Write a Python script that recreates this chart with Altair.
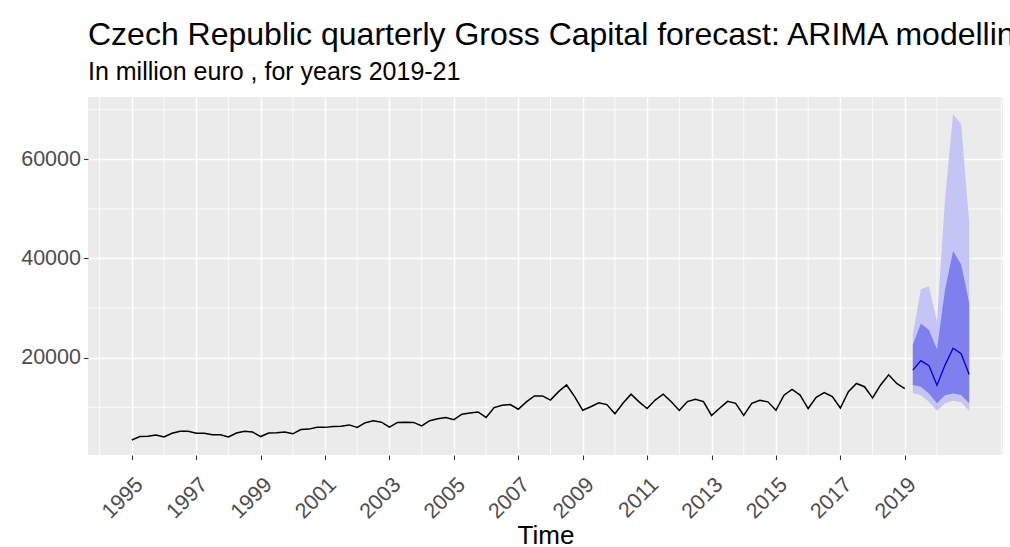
import altair as alt
import pandas as pd

# Quarterly gross capital formation, Czech Republic (million euro), 1995Q1-2019Q1
obs_start = 1995.0
obs_values = [
    3400, 4100, 4150, 4400,
    4000, 4750, 5180, 5180,
    4780, 4780, 4450, 4440,
    4030, 4800, 5180, 5000,
    4100, 4820, 4850, 5000,
    4650, 5500, 5600, 5950,
    5950, 6150, 6200, 6450,
    5950, 6900, 7300, 7000,
    6000, 6950, 7000, 6950,
    6250, 7300, 7700, 7950,
    7500, 8600, 8850, 9050,
    7950, 9950, 10400, 10550,
    9600, 11100, 12300, 12300,
    11450, 13150, 14500, 12150,
    9400, 10100, 10900, 10550,
    8700, 10800, 12650, 11100,
    9750, 11450, 12650, 11100,
    9350, 11150, 11600, 11150,
    8350, 9800, 11200, 10800,
    8350, 10800, 11400, 11100,
    9400, 12450, 13600, 12450,
    9750, 12000, 12950, 12150,
    9850, 13150, 14800, 14150,
    11900, 14500, 16550, 14800,
    13750,
]

# ARIMA forecast, 2019Q2-2021Q1, with 80% and 95% intervals
fc_start = 2019.25
fc_mean = [17500, 19400, 18400, 14450, 18500, 21900, 20800, 16600]
fc_lo80 = [14500, 14150, 12800, 10800, 12450, 12800, 12500, 10800]
fc_hi80 = [22600, 26900, 25600, 21700, 33700, 41500, 38800, 31000]
fc_lo95 = [12900, 12450, 11100, 9300, 10800, 11300, 11000, 9300]
fc_hi95 = [24600, 33800, 34400, 27300, 51900, 69100, 67100, 47200]

# Axis breaks
x_breaks = list(range(1995, 2020, 2))
x_minor = list(range(1994, 2023, 2))
y_breaks = [20000, 40000, 60000]
y_minor = [10000, 30000, 50000, 70000]

obs = pd.DataFrame({
    "time": [obs_start + 0.25 * i for i in range(len(obs_values))],
    "value": obs_values,
})
fc = pd.DataFrame({
    "time": [fc_start + 0.25 * i for i in range(len(fc_mean))],
    "mean": fc_mean,
    "lo80": fc_lo80,
    "hi80": fc_hi80,
    "lo95": fc_lo95,
    "hi95": fc_hi95,
})
xgrid = pd.DataFrame({"v": x_minor})
ygrid = pd.DataFrame({"v": y_minor})

FONT = "Liberation Sans"
x_scale = alt.Scale(domain=[1993.64, 2022.05], nice=False, zero=False)
y_scale = alt.Scale(domain=[380, 72560], nice=False, zero=False)

x_axis = alt.Axis(
    values=x_breaks, format="d", title="Time",
    labelAngle=-45, labelAlign="right", labelBaseline="top",
    labelPadding=14, titlePadding=0,
)
y_axis = alt.Axis(values=y_breaks, format="d", title=None, labelPadding=3)


def xq(field):
    return alt.X(field, type="quantitative", scale=x_scale, axis=x_axis)


def yq(field):
    return alt.Y(field, type="quantitative", scale=y_scale, axis=y_axis)


minor_x = alt.Chart(xgrid).mark_rule(color="white", strokeWidth=0.8).encode(x=xq("v"))
minor_y = alt.Chart(ygrid).mark_rule(color="white", strokeWidth=0.8).encode(y=yq("v"))

band95 = alt.Chart(fc).mark_area(color="#C4C4F5", opacity=1).encode(
    x=xq("time"), y=yq("lo95"), y2="hi95"
)
band80 = alt.Chart(fc).mark_area(color="#7F7FEE", opacity=1).encode(
    x=xq("time"), y=yq("lo80"), y2="hi80"
)
obs_line = alt.Chart(obs).mark_line(color="black", strokeWidth=1.5).encode(
    x=xq("time"), y=yq("value")
)
fc_line = alt.Chart(fc).mark_line(color="#0000CC", strokeWidth=1.3).encode(
    x=xq("time"), y=yq("mean")
)

# Fixed layout: the plot area is 915x358 placed at (88, 97) in a 1010x547 canvas;
# the long title simply runs off the right edge.
chart = (
    alt.layer(minor_x, minor_y, band95, band80, obs_line, fc_line)
    .properties(
        width=915,
        height=358,
        background="white",
        autosize=alt.AutoSizeParams(type="none"),
        padding={"left": 88, "top": 97, "right": 7, "bottom": 92},
        title=alt.TitleParams(
            text="Czech Republic quarterly Gross Capital forecast: ARIMA modelling",
            subtitle="In million euro , for years 2019-21",
            anchor="start",
            frame="group",
            font=FONT,
            fontSize=32,
            fontWeight="normal",
            color="black",
            subtitleFont=FONT,
            subtitleFontSize=25,
            subtitleColor="black",
            subtitlePadding=8,
            offset=11,
        ),
    )
    .configure_view(fill="#EBEBEB", strokeWidth=0)
    .configure_axis(
        domain=False,
        grid=True,
        gridColor="white",
        gridWidth=1.5,
        labelFont=FONT,
        labelFontSize=21.5,
        labelColor="#4D4D4D",
        tickColor="#333333",
        tickSize=4.5,
        tickWidth=1.1,
        titleFont=FONT,
        titleFontSize=26,
        titleFontWeight="normal",
        titleColor="black",
    )
)

chart.save("out.html", embed_options={"renderer": "svg", "actions": False})
